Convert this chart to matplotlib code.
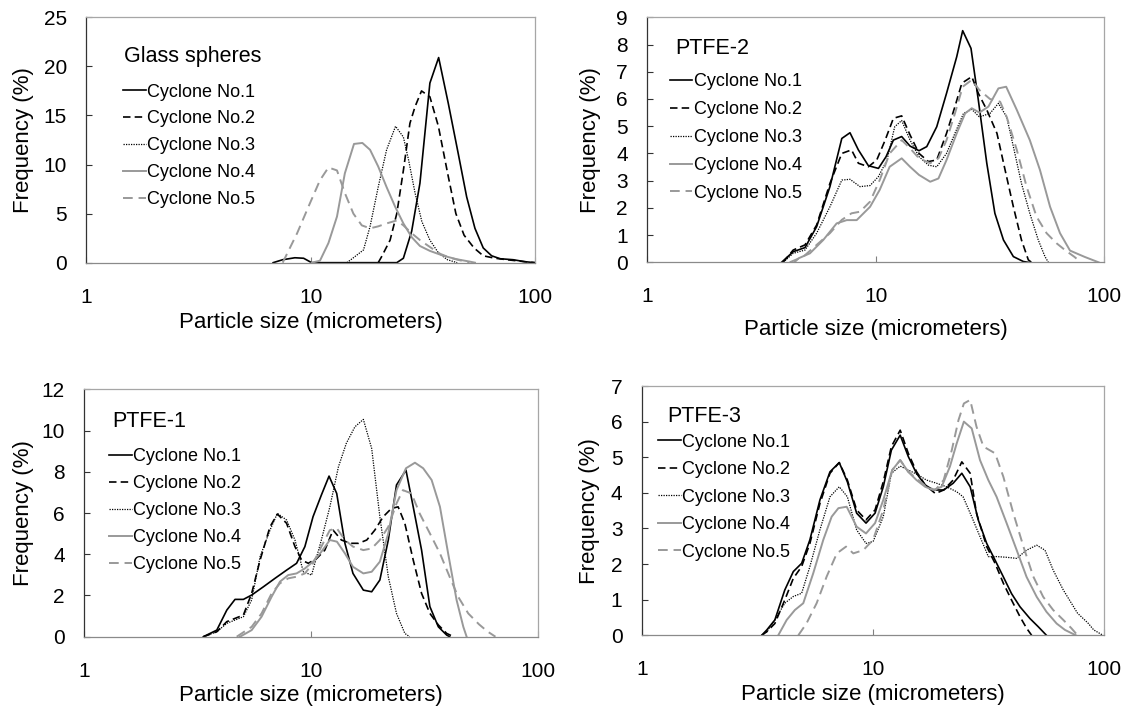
import matplotlib
matplotlib.use("Agg")
import matplotlib.pyplot as plt
from matplotlib.ticker import NullLocator

plt.rcParams['font.family'] = ['Liberation Sans', 'DejaVu Sans']

labels = ["Cyclone No.1", "Cyclone No.2", "Cyclone No.3", "Cyclone No.4", "Cyclone No.5"]

# --- Glass spheres ---
gs1_x = [6.8, 7.5, 8.5, 9.3, 10.1, 24.2, 25.9, 28.2, 30.7, 34.0, 37.2, 41.1, 45.5, 49.6, 54.0, 58.8, 64.1, 70, 80, 90, 100]
gs1_y = [0, 0.3, 0.5, 0.45, 0, 0, 0.45, 3.2, 8.1, 18.3, 20.9, 16.2, 11.1, 6.7, 3.5, 1.5, 0.7, 0.4, 0.3, 0.1, 0]
gs2_x = [20.0, 20.7, 22.6, 24.2, 25.9, 27.7, 29.2, 31.2, 34.0, 37.1, 40.8, 44.4, 48.3, 53.5, 58.8, 66.4, 75, 90, 100]
gs2_y = [0, 0.6, 2.3, 5.0, 9.4, 14.2, 15.9, 17.5, 16.9, 13.9, 9.1, 5.0, 2.8, 1.5, 0.7, 0.45, 0.3, 0.1, 0]
gs3_x = [14.5, 15.5, 17.2, 18.4, 20.0, 21.8, 23.9, 25.9, 27.3, 29.2, 31.3, 34.0, 37.1, 40.7, 45.0]
gs3_y = [0, 0.5, 1.3, 3.7, 7.7, 11.5, 13.9, 12.8, 10.5, 7.1, 4.2, 2.3, 1.0, 0.3, 0]
gs4_x = [10.1, 11.0, 12.0, 13.1, 14.2, 15.6, 17.0, 18.4, 20.0, 21.8, 23.8, 25.9, 28.2, 30.7, 34.0, 39.1, 44.8, 51.4, 54.0]
gs4_y = [0, 0.2, 2.0, 4.7, 9.1, 12.1, 12.2, 11.5, 9.8, 7.7, 5.7, 4.0, 2.6, 1.7, 1.2, 0.7, 0.35, 0.1, 0]
gs5_x = [7.5, 8.7, 9.9, 11.0, 12.0, 13.1, 14.2, 15.5, 16.9, 18.4, 20.0, 21.8, 24.2, 25.9, 28.2, 30.7, 34.0, 37.8, 41.8, 48.0, 51.0]
gs5_y = [0, 3.0, 6.0, 8.4, 9.7, 9.4, 7.1, 5.0, 3.8, 3.5, 3.7, 4.0, 4.3, 3.8, 3.0, 2.3, 1.6, 0.9, 0.5, 0.15, 0]

# --- PTFE-2 ---
p2_1x = [3.87, 4.35, 4.90, 5.51, 6.30, 7.10, 7.71, 8.39, 9.28, 10.27, 11.09, 11.94, 12.98, 14.12, 15.46, 16.71, 18.48,
         20.4, 22.6, 24.0, 26.1, 28.1, 30.6, 33.2, 36.2, 40.0, 44.2, 46.4]
p2_1y = [0, 0.39, 0.54, 1.31, 2.78, 4.55, 4.76, 4.13, 3.55, 3.45, 3.88, 4.49, 4.62, 4.27, 4.1, 4.25, 4.98,
         6.21, 7.55, 8.51, 7.86, 5.96, 3.64, 1.80, 0.82, 0.21, 0.03, 0]
p2_2x = [3.93, 4.35, 4.90, 5.51, 6.30, 7.10, 7.83, 8.39, 9.28, 10.1, 10.99, 11.94, 12.98, 14.12, 15.46, 17.0, 18.48,
         20.4, 22.2, 23.8, 26.3, 28.1, 30.6, 33.9, 36.8, 40.0, 43.4, 46.5, 48.0]
p2_2y = [0, 0.45, 0.64, 1.37, 2.90, 4.0, 4.13, 3.64, 3.51, 3.76, 4.49, 5.29, 5.38, 4.68, 4.0, 3.70, 3.76,
         4.74, 5.72, 6.58, 6.82, 6.21, 5.60, 4.74, 3.39, 2.04, 0.82, 0.09, 0]
p2_3x = [3.93, 4.35, 4.90, 5.51, 6.30, 7.10, 7.71, 8.53, 9.44, 10.27, 11.2, 12.1, 12.98, 14.12, 15.46, 17.0, 18.48,
         20.4, 22.2, 24.2, 26.3, 28.4, 31.6, 34.4, 37.4, 40.0, 43.4, 47.2, 51.4, 55.0, 56.9]
p2_3y = [0, 0.33, 0.45, 1.07, 2.04, 3.02, 3.05, 2.78, 2.82, 3.15, 3.76, 4.98, 5.21, 4.49, 3.88, 3.57, 3.51,
         4.0, 4.74, 5.47, 5.62, 5.34, 5.47, 5.84, 5.34, 4.25, 2.9, 1.80, 0.82, 0.21, 0]
p2_4x = [4.4, 4.6, 5.15, 5.89, 6.74, 7.46, 8.25, 9.44, 10.4, 11.5, 12.98, 14.12, 15.46, 17.3, 18.8, 20.4, 22.6,
         24.6, 26.3, 28.4, 31.1, 34.4, 37.2, 41.4, 47.2, 52.3, 57.9, 64.0, 70.8, 82.0, 94.4]
p2_4y = [0, 0.15, 0.33, 0.82, 1.43, 1.55, 1.55, 2.04, 2.66, 3.51, 3.82, 3.51, 3.21, 2.96, 3.08, 3.76, 4.74,
         5.47, 5.66, 5.5, 5.72, 6.39, 6.45, 5.6, 4.49, 3.39, 2.04, 1.07, 0.43, 0.2, 0]
p2_5x = [4.2, 4.82, 5.51, 6.30, 7.10, 7.83, 8.53, 9.44, 10.4, 11.5, 12.98, 14.12, 15.46, 17.3, 18.8, 20.4, 22.2,
         24.0, 26.3, 28.4, 31.6, 35.0, 37.4, 41.4, 45.7, 50.5, 55.9, 61.8, 67.3, 74.0, 79.0]
p2_5y = [0, 0.21, 0.64, 1.07, 1.56, 1.80, 1.86, 2.23, 3.02, 4.0, 4.49, 4.19, 3.82, 3.64, 3.82, 4.49, 5.47,
         6.45, 6.7, 6.33, 6.0, 5.9, 5.34, 4.13, 2.78, 1.68, 1.07, 0.7, 0.45, 0.2, 0]

# --- PTFE-1 ---
p1_1x = [3.35, 3.84, 4.25, 4.62, 5.03, 5.47, 6.16, 6.93, 7.80, 8.63, 9.39, 10.2, 11.1, 12.0, 12.97, 14.1, 15.3,
         17.0, 18.5, 20.1, 21.9, 23.8, 26.2, 28.2, 30.7, 33.4, 36.4, 39.6, 40.8]
p1_1y = [0, 0.32, 1.29, 1.81, 1.81, 2.02, 2.42, 2.83, 3.23, 3.56, 4.37, 5.82, 6.87, 7.79, 6.95, 4.53, 3.07,
         2.26, 2.18, 2.75, 4.69, 7.36, 8.08, 6.3, 4.2, 1.46, 0.48, 0.08, 0]
p1_2x = [3.35, 3.84, 4.25, 5.03, 5.47, 5.96, 6.59, 7.10, 7.80, 8.49, 9.08, 9.72, 10.6, 11.5, 12.5, 13.6, 14.9,
         16.2, 17.6, 19.1, 20.8, 22.6, 24.2, 25.9, 28.2, 30.7, 33.4, 36.4, 39.6, 42.5]
p1_2y = [0, 0.24, 0.73, 1.05, 2.10, 3.72, 5.33, 5.95, 5.5, 4.37, 3.72, 3.56, 3.8, 4.2, 5.17, 4.69, 4.53,
         4.53, 4.69, 5.17, 5.82, 6.22, 6.3, 5.5, 3.72, 2.10, 1.13, 0.57, 0.16, 0]
p1_3x = [3.35, 3.84, 4.25, 5.03, 5.47, 5.96, 6.59, 7.10, 7.80, 8.49, 9.24, 10.05, 11.1, 12.1, 13.2, 14.3, 15.6,
         17.0, 18.5, 20.1, 21.9, 23.8, 25.9, 27.2]
p1_3y = [0, 0.24, 0.65, 0.97, 1.78, 3.88, 5.17, 5.98, 5.66, 4.69, 3.15, 2.99, 4.69, 6.3, 8.24, 9.38, 10.18,
         10.54, 9.13, 5.82, 2.91, 1.13, 0.16, 0]
p1_4x = [4.86, 5.47, 6.05, 6.70, 7.29, 7.93, 8.63, 9.39, 10.2, 11.1, 12.1, 13.0, 14.1, 15.3, 17.0, 18.5, 20.1,
         21.9, 23.8, 26.2, 28.7, 31.2, 34.0, 37.0, 40.2, 43.8, 46.9, 48.5]
p1_4y = [0, 0.32, 0.97, 1.94, 2.67, 2.99, 3.07, 3.31, 3.64, 4.12, 4.69, 4.61, 4.04, 3.39, 3.07, 3.15, 3.64,
         5.01, 7.11, 8.17, 8.44, 8.17, 7.6, 6.3, 4.04, 1.78, 0.48, 0]
p1_5x = [4.70, 5.47, 6.05, 6.70, 7.29, 7.93, 8.63, 9.39, 10.2, 11.1, 12.1, 13.0, 14.1, 15.3, 17.0, 18.5, 20.1,
         21.9, 23.8, 25.4, 27.7, 30.1, 33.4, 37.0, 40.8, 44.5, 49.3, 55.0, 60.0, 65.0]
p1_5y = [0, 0.48, 1.13, 2.10, 2.59, 2.83, 2.91, 3.07, 3.56, 4.37, 5.17, 5.25, 4.69, 4.37, 4.2, 4.28, 4.69,
         5.33, 6.46, 7.11, 6.95, 5.98, 5.01, 4.04, 2.91, 1.94, 1.13, 0.6, 0.25, 0]

# --- PTFE-3 ---
p3_1x = [3.30, 3.47, 3.76, 4.15, 4.52, 4.91, 5.33, 5.89, 6.51, 7.14, 7.74, 8.49, 9.32, 10.2, 11.07, 12.0, 13.1,
         14.2, 15.4, 16.8, 18.2, 20.2, 22.2, 24.2, 26.3, 28.5, 31.0, 33.7, 36.6, 39.7, 43.2, 47.7, 51.8, 56.2]
p3_1y = [0, 0.15, 0.43, 1.27, 1.79, 2.02, 2.68, 3.80, 4.59, 4.85, 4.31, 3.43, 3.15, 3.43, 4.17, 5.20, 5.62,
         5.02, 4.55, 4.22, 4.08, 4.08, 4.27, 4.55, 4.17, 3.24, 2.58, 2.11, 1.64, 1.17, 0.8, 0.47, 0.24, 0]
p3_2x = [3.30, 3.47, 3.76, 4.15, 4.52, 4.91, 5.33, 5.89, 6.51, 7.14, 7.74, 8.49, 9.32, 10.2, 11.07, 12.0, 13.1,
         14.2, 15.4, 16.8, 18.6, 20.2, 22.2, 24.2, 26.3, 28.0, 31.0, 33.7, 36.6, 39.7, 43.2, 46.1, 48.5]
p3_2y = [0, 0.1, 0.33, 0.99, 1.6, 1.93, 2.58, 3.70, 4.55, 4.85, 4.36, 3.52, 3.24, 3.52, 4.31, 5.30, 5.76,
         5.11, 4.6, 4.22, 3.98, 4.08, 4.36, 4.87, 4.55, 3.43, 2.49, 2.02, 1.46, 0.99, 0.52, 0.2, 0]
p3_3x = [3.30, 3.47, 3.76, 4.15, 4.52, 4.91, 5.33, 5.89, 6.51, 7.14, 7.74, 8.49, 9.32, 10.0, 11.07, 12.0, 13.1,
         14.2, 15.7, 17.0, 18.8, 20.8, 23.0, 24.5, 26.7, 29.0, 31.5, 34.2, 37.8, 41.8, 46.1, 51.0, 55.4, 60.1,
         66.5, 76.6, 85.1, 90.0, 98.7]
p3_3y = [0, 0.1, 0.43, 0.90, 1.09, 1.18, 1.93, 2.96, 3.89, 4.17, 3.89, 2.96, 2.58, 2.63, 3.33, 4.55, 4.75,
         4.64, 4.5, 4.36, 4.27, 4.17, 4.03, 3.89, 3.33, 2.77, 2.21, 2.21, 2.19, 2.16, 2.39, 2.53, 2.39, 1.83,
         1.27, 0.62, 0.34, 0.15, 0]
p3_4x = [3.89, 4.23, 4.59, 4.99, 5.51, 6.09, 6.62, 7.08, 7.69, 8.49, 9.32, 10.2, 11.07, 12.1, 13.1, 14.2, 15.4,
         16.8, 18.2, 19.8, 21.5, 23.0, 24.7, 26.7, 29.0, 31.5, 34.2, 37.8, 41.8, 46.1, 51.0, 56.2, 62.2, 67.6, 75.3]
p3_4y = [0, 0.43, 0.71, 0.90, 1.74, 2.68, 3.33, 3.57, 3.61, 3.05, 2.86, 3.15, 3.80, 4.64, 4.92, 4.59, 4.36,
         4.17, 4.08, 4.17, 4.74, 5.39, 6.0, 5.81, 4.92, 4.36, 3.89, 3.15, 2.39, 1.64, 1.08, 0.66, 0.33, 0.15, 0]
p3_5x = [4.75, 5.15, 5.70, 6.30, 6.97, 7.64, 8.21, 9.07, 10.0, 11.07, 12.1, 13.1, 14.2, 15.4, 17.0, 18.6, 20.2,
         21.9, 23.4, 24.7, 26.3, 28.0, 30.0, 33.7, 36.6, 40.4, 44.7, 49.3, 54.4, 60.1, 66.5, 72.0, 76.6]
p3_5y = [0, 0.33, 0.90, 1.65, 2.30, 2.49, 2.30, 2.39, 2.68, 3.52, 4.64, 4.92, 4.59, 4.41, 4.17, 4.08, 4.36,
         5.2, 6.04, 6.51, 6.61, 5.86, 5.30, 5.11, 4.45, 3.43, 2.49, 1.65, 1.08, 0.71, 0.43, 0.2, 0]

gray = "#999999"
styles = [
    dict(color="black", ls="-", lw=1.2),
    dict(color="black", ls=(0, (4.5, 2.5)), lw=1.2),
    dict(color="black", ls=(0, (1, 1)), lw=0.9),
    dict(color=gray, ls="-", lw=1.4),
    dict(color=gray, ls=(0, (5, 3)), lw=1.4),
]

fig = plt.figure(figsize=(11.31, 7.13), dpi=100)


def panel(rect, curves, ymax, ystep, title, title_pos, leg_pos, spacing, ylab_x, xlab_y):
    ax = fig.add_axes(rect)
    for (xs, ys), lab, st in zip(curves, labels, styles):
        ax.plot(xs, ys, label=lab, **st)
    ax.set_xscale('log')
    ax.set_xlim(1, 100)
    ax.set_ylim(0, ymax)
    ax.set_xticks([1, 10, 100])
    ax.set_xticklabels(['1', '10', '100'])
    ax.xaxis.set_minor_locator(NullLocator())
    ax.set_yticks(range(0, ymax + 1, ystep))
    ax.tick_params(axis='x', direction='in', length=4, width=0.8, color='#808080', pad=18, labelsize=15)
    ax.tick_params(axis='y', direction='in', length=4, width=0.8, color='#333333', pad=14, labelsize=15)
    for s in ['top', 'right']:
        ax.spines[s].set_color('#a6a6a6')
        ax.spines[s].set_linewidth(0.9)
    ax.spines['bottom'].set_color('#8a8a8a')
    ax.spines['bottom'].set_linewidth(0.9)
    ax.spines['left'].set_color('#333333')
    ax.spines['left'].set_linewidth(0.9)
    ax.set_ylabel("Frequency (%)", fontsize=16)
    ax.set_xlabel("Particle size (micrometers)", fontsize=16)
    ax.yaxis.set_label_coords(ylab_x, 0.5)
    ax.yaxis.label.set_va('center')
    ax.xaxis.set_label_coords(0.5, xlab_y)
    ax.xaxis.label.set_va('center')
    ax.text(title_pos[0], title_pos[1], title, transform=ax.transAxes, fontsize=15.5,
            ha='left', va='center')
    ax.legend(loc='upper left', bbox_to_anchor=leg_pos, frameon=False, fontsize=13,
              handlelength=1.25, handletextpad=0.1, labelspacing=spacing,
              borderpad=0, borderaxespad=0)
    return ax


panel([0.0764, 0.6316, 0.3966, 0.3441],
      [(gs1_x, gs1_y), (gs2_x, gs2_y), (gs3_x, gs3_y), (gs4_x, gs4_y), (gs5_x, gs5_y)],
      25, 5, "Glass spheres", (0.084, 0.840), (0.0816, 0.730), 0.55, -0.141, -0.242)

panel([0.5723, 0.6321, 0.4041, 0.3436],
      [(p2_1x, p2_1y), (p2_2x, p2_2y), (p2_3x, p2_3y), (p2_4x, p2_4y), (p2_5x, p2_5y)],
      9, 1, "PTFE-2", (0.061, 0.874), (0.049, 0.771), 0.6, -0.125, -0.276)

panel([0.0745, 0.1070, 0.4011, 0.3470],
      [(p1_1x, p1_1y), (p1_2x, p1_2y), (p1_3x, p1_3y), (p1_4x, p1_4y), (p1_5x, p1_5y)],
      12, 2, "PTFE-1", (0.062, 0.868), (0.0545, 0.761), 0.55, -0.135, -0.236)

panel([0.5675, 0.1090, 0.4089, 0.3496],
      [(p3_1x, p3_1y), (p3_2x, p3_2y), (p3_3x, p3_3y), (p3_4x, p3_4y), (p3_5x, p3_5y)],
      7, 1, "PTFE-3", (0.056, 0.876), (0.035, 0.809), 0.58, -0.113, -0.239)

fig.savefig("out.png", dpi=100)
